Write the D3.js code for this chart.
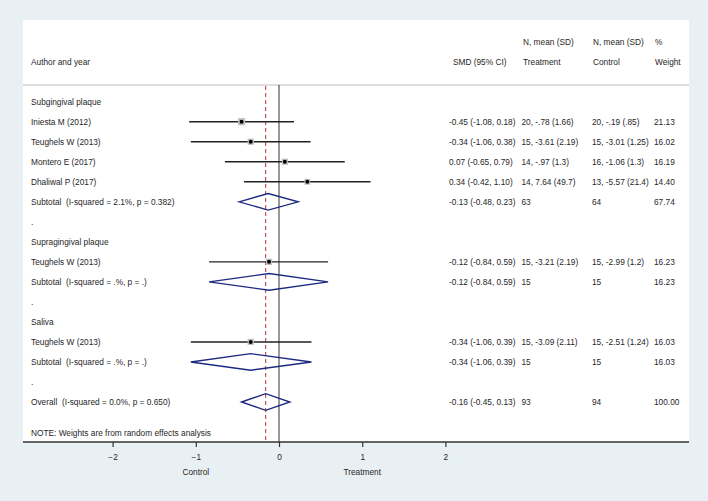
<!DOCTYPE html>
<html>
<head>
<meta charset="utf-8">
<script src="https://cdn.jsdelivr.net/npm/d3@7"></script>
<style>
html,body{margin:0;padding:0;background:#e9f0f3;}
svg{display:block;}
text{font-family:"Liberation Sans",Arial,Helvetica,sans-serif;font-size:8.3px;fill:#262626;white-space:pre;}
</style>
</head>
<body>
<svg id="chart" width="708" height="501"></svg>
<script>
// ---- data ----
const rowLabels = ["Subgingival plaque","Iniesta M (2012)","Teughels W (2013)","Montero E (2017)","Dhaliwal P (2017)",
  "Subtotal  (I-squared = 2.1%, p = 0.382)",".","Supragingival plaque","Teughels W (2013)","Subtotal  (I-squared = .%, p = .)",
  ".","Saliva","Teughels W (2013)","Subtotal  (I-squared = .%, p = .)",".","Overall  (I-squared = 0.0%, p = 0.650)"];
const rowType = ["group","study","study","study","study","subtotal","sep","group","study","subtotal","sep","group","study","subtotal","sep","overall"];
const estimate = [null,-0.45,-0.34,0.07,0.34,-0.13,null,null,-0.12,-0.12,null,null,-0.34,-0.34,null,-0.16];
const lower    = [null,-1.08,-1.06,-0.65,-0.42,-0.48,null,null,-0.84,-0.84,null,null,-1.06,-1.06,null,-0.45];
const upper    = [null, 0.18, 0.38, 0.79, 1.10, 0.23,null,null, 0.59, 0.59,null,null, 0.39, 0.39,null, 0.13];
const weights  = [null,21.13,16.02,16.19,14.40,67.74,null,null,16.23,16.23,null,null,16.03,16.03,null,100.00];
const ciText = ["","-0.45 (-1.08, 0.18)","-0.34 (-1.06, 0.38)","0.07 (-0.65, 0.79)","0.34 (-0.42, 1.10)","-0.13 (-0.48, 0.23)","","",
  "-0.12 (-0.84, 0.59)","-0.12 (-0.84, 0.59)","","","-0.34 (-1.06, 0.39)","-0.34 (-1.06, 0.39)","","-0.16 (-0.45, 0.13)"];
const treatText = ["","20, -.78 (1.66)","15, -3.61 (2.19)","14, -.97 (1.3)","14, 7.64 (49.7)","63","","",
  "15, -3.21 (2.19)","15","","","15, -3.09 (2.11)","15","","93"];
const controlText = ["","20, -.19 (.85)","15, -3.01 (1.25)","16, -1.06 (1.3)","13, -5.57 (21.4)","64","","",
  "15, -2.99 (1.2)","15","","","15, -2.51 (1.24)","15","","94"];
const weightText = ["","21.13","16.02","16.19","14.40","67.74","","","16.23","16.23","","","16.03","16.03","","100.00"];
const headerTop = ["N, mean (SD)","N, mean (SD)","%"];
const headerBottom = ["Author and year","SMD (95% CI)","Treatment","Control","Weight"];
const tickValues = [-2,-1,0,1,2];
const axisLabels = [{v:-1,t:"Control"},{v:1,t:"Treatment"}];
const noteText = "NOTE: Weights are from random effects analysis";

// ---- layout ----
const svg = d3.select("#chart");
const panel = {x0:23, x1:689, y0:20, y1:442};
const x = d3.scaleLinear().domain([-2,2]).range([112.6,445.4]);
const y = d3.scaleLinear().domain([0,15]).range([101.7,402]);
const colX = {label:31, ci:449, treat:521.5, control:592, weight:654};

svg.append("rect").attr("x",panel.x0).attr("y",panel.y0)
  .attr("width",panel.x1-panel.x0).attr("height",panel.y1-panel.y0).attr("fill","#ffffff");

// header
const hTopX = [523, 593, 655];
svg.selectAll("text.ht").data(headerTop).join("text").attr("class","ht")
  .attr("x",(d,i)=>hTopX[i]).attr("y",42).attr("dy","0.35em").text(d=>d);
const hBotX = [colX.label, 453, 523, 593, 655];
svg.selectAll("text.hb").data(headerBottom).join("text").attr("class","hb")
  .attr("x",(d,i)=>hBotX[i]).attr("y",62).attr("dy","0.35em").text(d=>d);
svg.append("line").attr("x1",panel.x0).attr("x2",panel.x1).attr("y1",85).attr("y2",85)
  .attr("stroke","#bdbdbd").attr("stroke-width",1);

// reference lines
svg.append("line").attr("x1",x(0)).attr("x2",x(0)).attr("y1",85).attr("y2",panel.y1)
  .attr("stroke","#444").attr("stroke-width",1.1);
svg.append("line").attr("x1",x(estimate[15])).attr("x2",x(estimate[15])).attr("y1",86).attr("y2",panel.y1)
  .attr("stroke","#b5322e").attr("stroke-width",1).attr("stroke-dasharray","4,3");

const idx = d3.range(rowLabels.length);

// row labels
svg.selectAll("text.lab").data(idx).join("text").attr("class","lab")
  .attr("x",colX.label).attr("y",i=>y(i)).attr("dy","0.35em").text(i=>rowLabels[i]);

// right columns
[[ciText,colX.ci],[treatText,colX.treat],[controlText,colX.control],[weightText,colX.weight]].forEach(([arr,cx],k)=>{
  svg.selectAll("text.col"+k).data(idx.filter(i=>arr[i]!=="")).join("text").attr("class","col"+k)
    .attr("x",cx).attr("y",i=>y(i)).attr("dy","0.35em").text(i=>arr[i]);
});

// studies
const studies = idx.filter(i=>rowType[i]==="study");
svg.selectAll("line.ci").data(studies).join("line").attr("class","ci")
  .attr("x1",i=>x(lower[i])).attr("x2",i=>x(upper[i])).attr("y1",i=>y(i)).attr("y2",i=>y(i))
  .attr("stroke","#222").attr("stroke-width",1.4);
const side = i=>1.55*Math.sqrt(weights[i]);
svg.selectAll("rect.box").data(studies).join("rect").attr("class","box")
  .attr("x",i=>x(estimate[i])-side(i)/2).attr("y",i=>y(i)-side(i)/2)
  .attr("width",side).attr("height",side).attr("fill","#bfbfbf");
svg.selectAll("circle.pt").data(studies).join("circle").attr("class","pt")
  .attr("cx",i=>x(estimate[i])).attr("cy",i=>y(i)).attr("r",2).attr("fill","#000");

// diamonds
const pooled = idx.filter(i=>rowType[i]==="subtotal"||rowType[i]==="overall");
const hh = 8.3;
svg.selectAll("path.dia").data(pooled).join("path").attr("class","dia")
  .attr("d",i=>`M${x(lower[i])},${y(i)}L${x(estimate[i])},${y(i)-hh}L${x(upper[i])},${y(i)}L${x(estimate[i])},${y(i)+hh}Z`)
  .attr("fill","none").attr("stroke","#1c2a80").attr("stroke-width",1.4);

// note
svg.append("text").attr("x",colX.label).attr("y",433).attr("dy","0.35em").text(noteText);

// axis
svg.append("line").attr("x1",panel.x0).attr("x2",panel.x1).attr("y1",panel.y1).attr("y2",panel.y1)
  .attr("stroke","#333").attr("stroke-width",1.4);
const ax = svg.append("g").attr("transform",`translate(0,${panel.y1})`)
  .call(d3.axisBottom(x).tickValues(tickValues).tickSize(5).tickPadding(7).tickFormat(d3.format("d")));
ax.select(".domain").remove();
ax.selectAll(".tick line").attr("stroke","#333").attr("stroke-width",1.2);
ax.selectAll(".tick text").attr("fill","#262626").style("font-size","8.3px")
  .style("font-family","\"Liberation Sans\",Arial,sans-serif");
svg.selectAll("text.axl").data(axisLabels).join("text").attr("class","axl")
  .attr("x",d=>x(d.v)).attr("y",472).attr("dy","0.35em").attr("text-anchor","middle").text(d=>d.t);
</script>
</body>
</html>
